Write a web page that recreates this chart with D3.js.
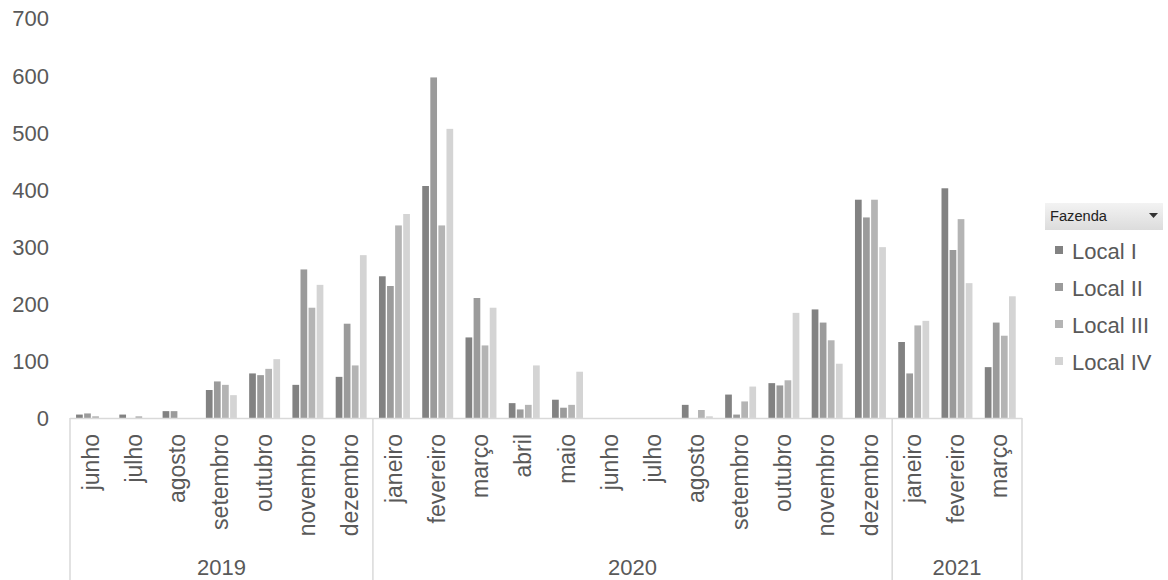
<!DOCTYPE html>
<html>
<head>
<meta charset="utf-8">
<script src="https://cdn.jsdelivr.net/npm/d3@7"></script>
<style>
  html, body { margin: 0; padding: 0; background: #fff; }
  svg { display: block; font-family: Arial, "Liberation Sans", sans-serif; }
</style>
</head>
<body>
<svg id="chart" width="1168" height="580"></svg>
<script>
// ---- data ----
const years = ["2019", "2020", "2021"];
const months2019 = ["junho", "julho", "agosto", "setembro", "outubro", "novembro", "dezembro"];
const months2020 = ["janeiro", "fevereiro", "março", "abril", "maio", "junho", "julho", "agosto", "setembro", "outubro", "novembro", "dezembro"];
const months2021 = ["janeiro", "fevereiro", "março"];
const seriesNames = ["Local I", "Local II", "Local III", "Local IV"];
const localI   = [6, 6, 12, 49, 78, 58, 72,   248, 406, 141, 26, 32, 0, 0, 23, 41, 61, 190, 382,   133, 402, 89];
const localII  = [8, 0, 12, 64, 75, 260, 165, 231, 596, 210, 15, 18, 0, 0, 0, 6, 57, 167, 351,     78, 294, 167];
const localIII = [3, 3, 0, 58, 86, 193, 92,   337, 337, 127, 23, 23, 0, 0, 14, 29, 66, 136, 382,   162, 348, 144];
const localIV  = [0, 0, 0, 40, 103, 233, 285, 357, 506, 193, 92, 81, 0, 0, 3, 55, 184, 95, 299,    170, 236, 213];
const yTicks = [0, 100, 200, 300, 400, 500, 600, 700];
const legendTitle = "Fazenda";

// ---- build ----
const colors = ["#828282", "#9b9b9b", "#b4b4b4", "#d4d4d4"];
const textColor = "#595959";
const lineColor = "#d9d9d9";

const groups = [
  { year: years[0], months: months2019 },
  { year: years[1], months: months2020 },
  { year: years[2], months: months2021 }
];
const cats = [];
groups.forEach(g => g.months.forEach(m => cats.push({ key: g.year + "-" + m, month: m, year: g.year })));
const seriesVals = [localI, localII, localIII, localIV];

const svg = d3.select("#chart");
const left = 70, right = 1022, yBase = 418, yTop = 18;

const x0 = d3.scaleBand().domain(cats.map(c => c.key)).range([left, right]).padding(0);
const step = x0.bandwidth();
const x1 = d3.scaleBand().domain(seriesNames).range([step * 0.14, step * 0.855]).paddingInner(0.17);
const y = d3.scaleLinear().domain([0, 700]).range([yBase, yTop]);

// y axis labels
const yAxis = d3.axisLeft(y).tickValues(yTicks).tickSize(0).tickPadding(0);
const yg = svg.append("g").attr("transform", "translate(49,0)").call(yAxis);
yg.select(".domain").remove();
yg.selectAll("text").attr("fill", textColor).style("font-size", "22px")
  .style("font-family", "Arial, 'Liberation Sans', sans-serif").attr("dy", "0.36em");

// bars
const barG = svg.append("g");
cats.forEach((c, i) => {
  const g = barG.append("g").attr("transform", `translate(${x0(c.key)},0)`);
  seriesNames.forEach((s, si) => {
    const v = seriesVals[si][i];
    if (v <= 0) return;
    g.append("rect")
      .attr("x", x1(s))
      .attr("y", y(v))
      .attr("width", x1.bandwidth())
      .attr("height", y(0) - y(v))
      .attr("fill", colors[si]);
  });
});

// category axis box
const axisG = svg.append("g");
axisG.append("line").attr("x1", left).attr("x2", right).attr("y1", yBase + 0.5).attr("y2", yBase + 0.5)
  .attr("stroke", lineColor).attr("stroke-width", 1.5);
let idx = 0;
const bounds = [left];
groups.forEach(g => { idx += g.months.length; bounds.push(x0(cats[idx - 1].key) + step); });
bounds.forEach(b => {
  axisG.append("line").attr("x1", b).attr("x2", b).attr("y1", yBase).attr("y2", 580)
    .attr("stroke", lineColor).attr("stroke-width", 1.5);
});

// month labels
cats.forEach(c => {
  const cx = x0(c.key) + step / 2;
  axisG.append("text")
    .attr("transform", `translate(${cx + 7},434) rotate(-90)`)
    .attr("text-anchor", "end")
    .attr("fill", textColor)
    .style("font-size", "23px")
    .text(c.month);
});

// year labels
groups.forEach((g, gi) => {
  const cx = (bounds[gi] + bounds[gi + 1]) / 2;
  axisG.append("text")
    .attr("x", cx).attr("y", 575)
    .attr("text-anchor", "middle")
    .attr("fill", textColor)
    .style("font-size", "22px")
    .text(g.year);
});

// legend
const defs = svg.append("defs");
const grad = defs.append("linearGradient").attr("id", "btn").attr("x1", 0).attr("y1", 0).attr("x2", 0).attr("y2", 1);
grad.append("stop").attr("offset", "0%").attr("stop-color", "#f3f3f3");
grad.append("stop").attr("offset", "100%").attr("stop-color", "#dcdcdc");
const lg = svg.append("g");
lg.append("rect").attr("x", 1045).attr("y", 203).attr("width", 118).attr("height", 27)
  .attr("fill", "url(#btn)");
lg.append("text").attr("x", 1050).attr("y", 221).attr("fill", "#222").style("font-size", "14px")
  .attr("textLength", 57).attr("lengthAdjust", "spacingAndGlyphs").text(legendTitle);
lg.append("path").attr("d", "M1149,213 L1158,213 L1153.5,218 Z").attr("fill", "#333");

seriesNames.forEach((s, i) => {
  const cy = 251 + i * 37;
  lg.append("rect").attr("x", 1055).attr("y", cy - 5).attr("width", 8).attr("height", 8).attr("fill", colors[i]);
  lg.append("text").attr("x", 1072).attr("y", cy + 8).attr("fill", textColor).style("font-size", "22px").text(s);
});
</script>
</body>
</html>
